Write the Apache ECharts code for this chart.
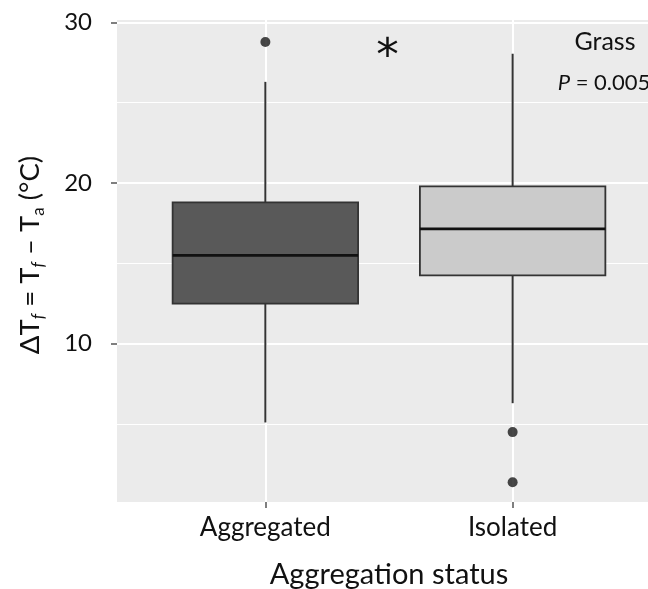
<!DOCTYPE html>
<html><head><meta charset="utf-8">
<script src="https://cdn.jsdelivr.net/npm/echarts@6/dist/echarts.min.js"></script>
<style>html,body{margin:0;padding:0;background:#fff}#c{width:648px;height:589px}</style>
</head><body><div id="c"></div>
<script>
const categories = ['Aggregated', 'Isolated'];
const categoryPos = [1, 2];
const whiskerLow = [5.1, 6.3];
const q1 = [12.5, 14.25];
const median = [15.5, 17.15];
const q3 = [18.8, 19.8];
const whiskerHigh = [26.3, 28.05];
const outliers = [[1, 28.78], [2, 4.5], [2, 1.38]];
const boxFills = ['#595959', '#cbcbcb'];
const yMajorTicks = [10, 20, 30];
const yMinorTicks = [5, 15, 25];
const annotationTexts = ['*', 'Grass', 'P', ' = 0.005'];

const FONT = 'Lato, "Noto Sans", sans-serif';
const BOX_WIDTH = 0.75;

const boxData = categoryPos.map((x, i) => [x, whiskerLow[i], q1[i], median[i], q3[i], whiskerHigh[i]]);

function renderBox(params, api) {
  const x = api.value(0);
  const pLow = api.coord([x, api.value(1)]);
  const pQ1 = api.coord([x, api.value(2)]);
  const pMed = api.coord([x, api.value(3)]);
  const pQ3 = api.coord([x, api.value(4)]);
  const pHigh = api.coord([x, api.value(5)]);
  const half = api.coord([x + BOX_WIDTH / 2, api.value(3)])[0] - pMed[0];
  const cx = pMed[0];
  return {
    type: 'group',
    children: [
      { type: 'line', shape: { x1: cx, y1: pHigh[1], x2: cx, y2: pQ3[1] }, style: { stroke: '#333', lineWidth: 2 } },
      { type: 'line', shape: { x1: cx, y1: pQ1[1], x2: cx, y2: pLow[1] }, style: { stroke: '#333', lineWidth: 2 } },
      { type: 'rect', shape: { x: cx - half, y: pQ3[1], width: 2 * half, height: pQ1[1] - pQ3[1] },
        style: { fill: boxFills[params.dataIndex], stroke: '#333', lineWidth: 1.8 } },
      { type: 'line', shape: { x1: cx - half, y1: pMed[1], x2: cx + half, y2: pMed[1] }, style: { stroke: '#111', lineWidth: 2.8 } }
    ]
  };
}

const chart = echarts.init(document.getElementById('c'), null, { renderer: 'canvas' });
chart.setOption({
  animation: false,
  backgroundColor: '#ffffff',
  grid: { left: 117, top: 20, width: 544, height: 482, outerBoundsMode: 'none', containLabel: false,
    show: true, backgroundColor: '#ebebeb', borderWidth: 0 },
  xAxis: {
    type: 'value', min: 0.4, max: 2.6,
    name: 'Aggregation status', nameLocation: 'middle', nameGap: 58,
    nameTextStyle: { fontFamily: FONT, fontSize: 29, color: '#111' },
    axisLine: { show: false },
    axisTick: { show: true, length: 6, customValues: categoryPos, lineStyle: { color: '#555', width: 1.5 } },
    axisLabel: { customValues: categoryPos, margin: 13, fontFamily: FONT, fontSize: 26, color: '#111',
      formatter: v => { const i = categoryPos.indexOf(v); return i >= 0 ? categories[i] : ''; } },
    splitLine: { show: false }
  },
  yAxis: {
    type: 'value', min: 0.15, max: 30.15, splitNumber: 3,
    name: '{n|ΔT}{fi|f}{n| = T}{fi|f}{n| – T}{s|a}{n| (°C)}',
    nameLocation: 'middle', nameGap: 70,
    nameTextStyle: {
      padding: [0, 0, 0, 12],
      rich: {
        n: { fontFamily: FONT, fontSize: 27.5, color: '#111', lineHeight: 33, verticalAlign: 'middle' },
        fi: { fontFamily: FONT, fontSize: 17, fontStyle: 'italic', color: '#111', lineHeight: 12, verticalAlign: 'bottom' },
        s: { fontFamily: FONT, fontSize: 17, color: '#111', lineHeight: 12, verticalAlign: 'bottom' }
      }
    },
    axisLine: { show: false },
    axisTick: { show: true, length: 6, customValues: yMajorTicks, lineStyle: { color: '#555', width: 1.5 } },
    axisLabel: { customValues: yMajorTicks, margin: 25, fontFamily: FONT, fontSize: 24, color: '#111' },
    splitLine: { show: true, lineStyle: { color: '#ffffff', width: 2 } }
  },
  series: [
    {
      type: 'line', data: [], z: 1, silent: true,
      markLine: {
        z: 1, silent: true, symbol: ['none', 'none'], label: { show: false },
        lineStyle: { color: '#ffffff', width: 1, type: 'solid' },
        data: yMinorTicks.map(v => ({ yAxis: v }))
          .concat(categoryPos.map(v => ({ xAxis: v, lineStyle: { color: '#ffffff', width: 2, type: 'solid' } })))
      }
    },
    {
      type: 'custom', z: 3, renderItem: renderBox, data: boxData,
      encode: { x: 0, y: [1, 2, 3, 4, 5] }
    },
    {
      type: 'scatter', z: 4, data: outliers, symbolSize: 10,
      itemStyle: { color: '#1a1a1a' }
    }
  ],
  graphic: [
    { type: 'text', x: 387.5, y: 58, style: { text: annotationTexts[0], font: '45px "DejaVu Sans"', fill: '#111', align: 'center', verticalAlign: 'middle' } },
    { type: 'text', x: 605, y: 41.5, style: { text: annotationTexts[1], font: '25px ' + FONT, fill: '#111', align: 'center', verticalAlign: 'middle' } },
    { type: 'text', x: 604, y: 83,
      style: { text: '{i|' + annotationTexts[2] + '}{n|' + annotationTexts[3] + '}', align: 'center', verticalAlign: 'middle',
        rich: { i: { font: 'italic 22px ' + FONT, fill: '#111' }, n: { font: '22px ' + FONT, fill: '#111' } } } }
  ]
});
</script>
</body></html>
